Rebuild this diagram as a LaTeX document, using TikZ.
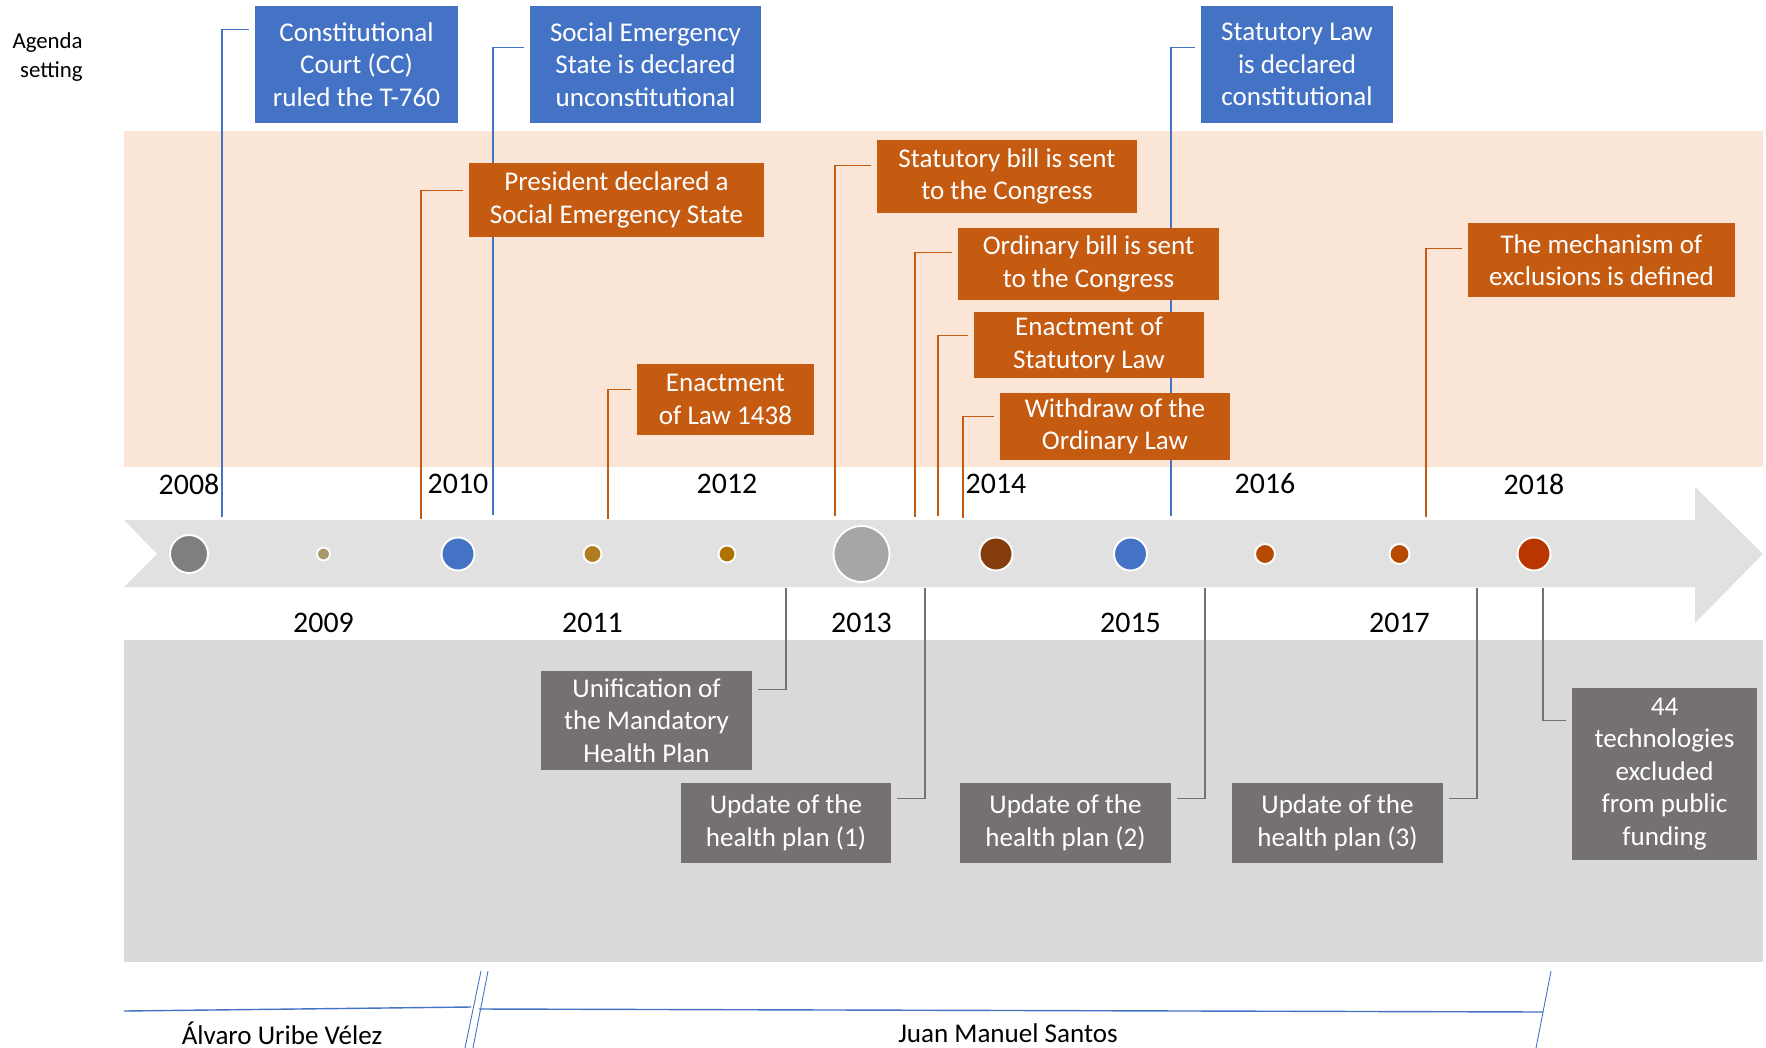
\documentclass[tikz,border=0pt]{standalone}
\usepackage{fontspec}
\setmainfont{Carlito}
\usetikzlibrary{calc}
\pgfdeclarelayer{bands}
\pgfdeclarelayer{links}
\pgfsetlayers{bands,links,main}
\definecolor{evblue}{HTML}{4472C4}
\definecolor{evorange}{HTML}{C55A11}
\definecolor{evgrey}{HTML}{767171}
\definecolor{peach}{HTML}{FBE5D6}
\definecolor{bandgrey}{HTML}{D9D9D9}
\definecolor{arrowgrey}{HTML}{E1E1E1}
\definecolor{dotgrey}{HTML}{7F7F7F}
\definecolor{dottan}{HTML}{A8996A}
\definecolor{dotgold}{HTML}{B07C1E}
\definecolor{dotamber}{HTML}{AD7200}
\definecolor{dotsilver}{HTML}{A6A6A6}
\definecolor{dotbrown}{HTML}{843C0C}
\definecolor{dotrust}{HTML}{B54A00}
\definecolor{dotred}{HTML}{B93600}
\begin{document}
\begin{tikzpicture}[x=0.2mm,y=-0.2mm,
  evbox/.style n args={3}{fill=#1,text=white,align=center,inner sep=0pt,minimum width=#2*0.2mm,minimum height=#3*0.2mm,font=\fontsize{15.4}{18.5}\selectfont},
  hook/.style={draw=#1,line width=0.8pt,shorten <=1.1mm},
  dot/.style n args={2}{circle,fill=#1,draw=white,line width=1.1pt,minimum size=#2*0.4mm,inner sep=0pt},
  yr/.style={font=\fontsize{17}{20}\selectfont},
  pres/.style={font=\fontsize{15.4}{18.5}\selectfont}]
\useasboundingbox (0,0) rectangle (1766,1048);
\begin{pgfonlayer}{bands}
\fill[peach] (124,131) rectangle (1763,467);
\fill[bandgrey] (124,640) rectangle (1763,962);
\fill[arrowgrey] (124,520) -- (1695,520) -- (1695,487) -- (1763,554) -- (1695,623) -- (1695,587) -- (124,587) -- (157,554) -- cycle;
\end{pgfonlayer}
\node[align=right,anchor=east,inner sep=0pt,font=\fontsize{13}{16.4}\selectfont] (agenda) at (83,57) {Agenda\\setting};
\coordinate (tcc) at (222,517);
\coordinate (tses) at (493,515);
\coordinate (tslc) at (1171,516);
\coordinate (tpres) at (421,519);
\coordinate (tlaw) at (608,519);
\coordinate (tstb) at (835,516);
\coordinate (tordb) at (915,517);
\coordinate (tstl) at (938,516);
\coordinate (twdr) at (963,518);
\coordinate (tmech) at (1426,517);
\coordinate (bunif) at (786,588);
\coordinate (bupd1) at (925,588);
\coordinate (bupd2) at (1205,588);
\coordinate (bupd3) at (1477,588);
\coordinate (bexcl) at (1543,588);
\node[evbox={evblue}{203}{117}] (cc) at (356.5,64.5) {Constitutional\\Court (CC)\\ruled the T-760};
\node[evbox={evblue}{231}{117}] (ses) at (645.5,64.5) {Social Emergency\\State is declared\\unconstitutional};
\node[evbox={evblue}{192}{117}] (slc) at (1297,64.5) {Statutory Law\\is declared\\constitutional};
\node[evbox={evorange}{295}{74}] (pres) at (616.5,200) {President declared a\\Social Emergency State};
\node[evbox={evorange}{177}{71}] (law) at (725.5,399.5) {Enactment\\of Law 1438};
\node[evbox={evorange}{260}{73}] (stb) at (1007,176.5) {Statutory bill is sent\\to the Congress};
\node[evbox={evorange}{261}{72}] (ordb) at (1088.5,264) {Ordinary bill is sent\\to the Congress};
\node[evbox={evorange}{230}{66}] (stl) at (1089,345) {Enactment of\\Statutory Law};
\node[evbox={evorange}{230}{67}] (wdr) at (1115,426.5) {Withdraw of the\\Ordinary Law};
\node[evbox={evorange}{267}{74}] (mech) at (1601.5,260) {The mechanism of\\exclusions is defined};
\node[evbox={evgrey}{211}{99}] (unif) at (646.5,720.5) {Unification of\\the Mandatory\\Health Plan};
\node[evbox={evgrey}{210}{80}] (upd1) at (786,823) {Update of the\\health plan (1)};
\node[evbox={evgrey}{211}{80}] (upd2) at (1065.5,823) {Update of the\\health plan (2)};
\node[evbox={evgrey}{211}{80}] (upd3) at (1337.5,823) {Update of the\\health plan (3)};
\node[evbox={evgrey}{185}{172}] (excl) at (1664.5,774) {44\\technologies\\excluded\\from public\\funding};
\begin{pgfonlayer}{links}
\draw[hook=evblue] ($(cc.north west)+(0,24)$) -| (tcc);
\draw[hook=evblue] ($(ses.north west)+(0,42)$) -| (tses);
\draw[hook=evblue] ($(slc.north west)+(0,42)$) -| (tslc);
\draw[hook=evorange] ($(pres.north west)+(0,28)$) -| (tpres);
\draw[hook=evorange] ($(law.north west)+(0,26)$) -| (tlaw);
\draw[hook=evorange] ($(stb.north west)+(0,26)$) -| (tstb);
\draw[hook=evorange] ($(ordb.north west)+(0,25)$) -| (tordb);
\draw[hook=evorange] ($(stl.north west)+(0,24)$) -| (tstl);
\draw[hook=evorange] ($(wdr.north west)+(0,24)$) -| (twdr);
\draw[hook=evorange] ($(mech.north west)+(0,26)$) -| (tmech);
\draw[hook=evgrey] ($(unif.north east)+(0,19)$) -| (bunif);
\draw[hook=evgrey] ($(upd1.north east)+(0,16)$) -| (bupd1);
\draw[hook=evgrey] ($(upd2.north east)+(0,16)$) -| (bupd2);
\draw[hook=evgrey] ($(upd3.north east)+(0,16)$) -| (bupd3);
\draw[hook=evgrey] ($(excl.north west)+(0,33)$) -| (bexcl);
\end{pgfonlayer}
\foreach \yr/\col/\r in {2008/dotgrey/19,2009/dottan/6.5,2010/evblue/16.5,2011/dotgold/9,2012/dotamber/8.5,2013/dotsilver/28,2014/dotbrown/16.5,2015/evblue/16.5,2016/dotrust/10,2017/dotrust/10,2018/dotred/16.5}
  \node[dot={\col}{\r}] (c\yr) at ({189+134.5*(\yr-2008)},554) {};
\foreach \yr in {2008,2010,...,2018}
  \node[yr] (y\yr) at ({189+134.5*(\yr-2008)},484) {\yr};
\foreach \yr in {2009,2011,...,2017}
  \node[yr] (y\yr) at ({189+134.5*(\yr-2008)},623) {\yr};
\coordinate (p0) at (124,1011);
\coordinate (p1) at (471,1007);
\coordinate (p2) at (479,1009);
\coordinate (p3) at (1543,1012);
\draw[evblue,line width=0.8pt] (p0) -- (p1);
\draw[evblue,line width=0.8pt] (p2) -- (p3);
\draw[evblue,line width=0.5pt] (481,971) -- (465,1048) (488,971) -- (473,1048) (1551,971) -- (1536,1048);
\node[pres] (uribe) at (282,1033) {Álvaro Uribe Vélez};
\node[pres] (santos) at (1008,1033) {Juan Manuel Santos};
\end{tikzpicture}
\end{document}
